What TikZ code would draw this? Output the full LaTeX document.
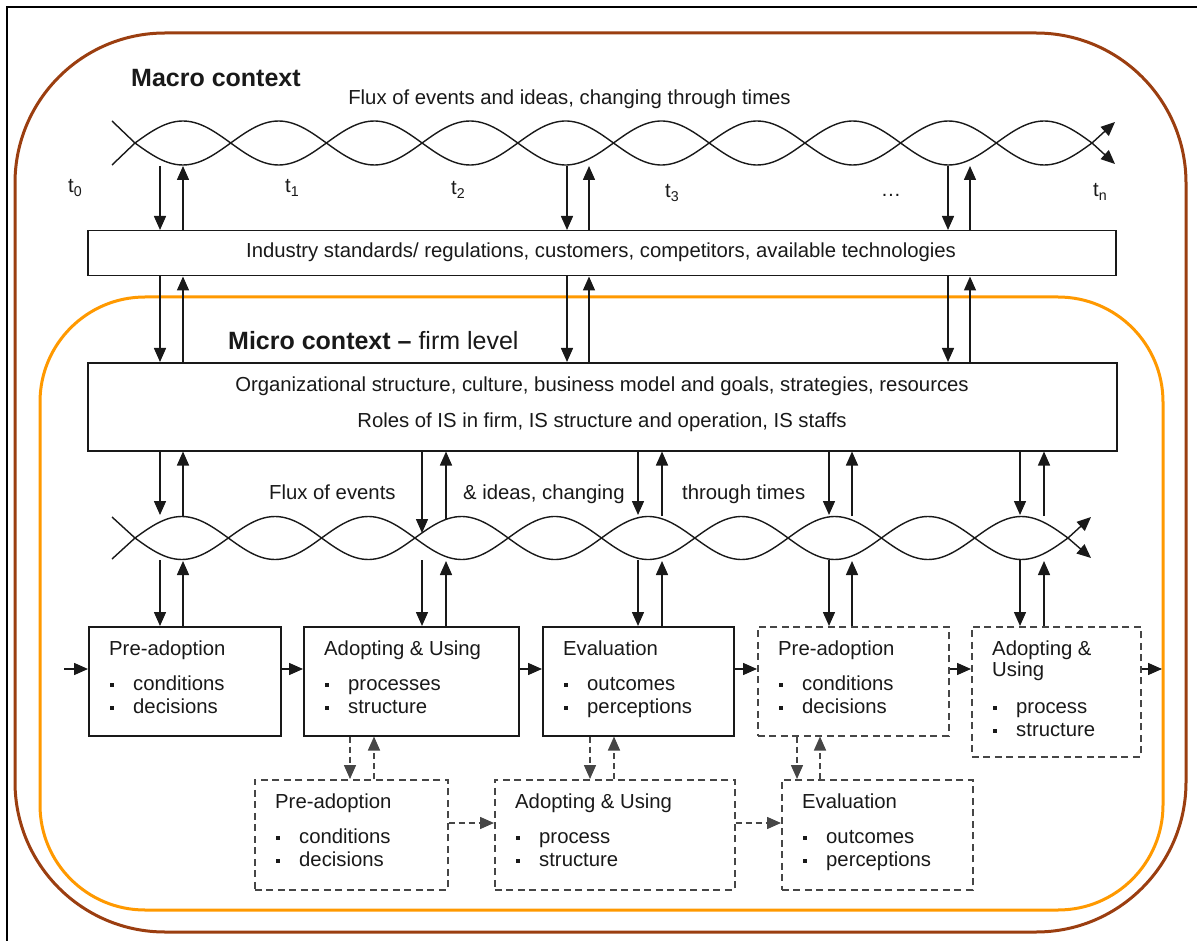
\documentclass[tikz,border=0pt]{standalone}
\usepackage{fontspec}
\setmainfont{Liberation Sans}
\usetikzlibrary{arrows.meta,calc}
\definecolor{macrobrown}{RGB}{155,62,16}
\definecolor{microorange}{RGB}{255,153,0}
\definecolor{ink}{RGB}{25,25,25}
\definecolor{dashgray}{RGB}{70,70,70}
% small square bullet followed by the item text
\newcommand\itembul{\makebox[23pt][l]{\rule[3.3pt]{3.6pt}{3.6pt}}}
% title and two bulleted items inside a stage box
\newcommand\stagetext[5]{%
  \node[txt] (#1-title) at ($(#1.north west)+(21,#3-35)$) {#2};
  \node[txt] (#1-one) at ($(#1.north west)+(22,#3)$) {\itembul #4};
  \node[txt] (#1-two) at ($(#1.north west)+(22,#3+23)$) {\itembul #5};}
\begin{document}
\begin{tikzpicture}[x=1pt,y=-1pt,
  txt/.style={inner sep=0pt, anchor=base west, text=ink, font=\fontsize{20.3}{24}\selectfont},
  ctxt/.style={txt, anchor=base},
  headtxt/.style={txt, font=\fontsize{25}{30}\selectfont\bfseries},
  macroframe/.style={draw=macrobrown, line width=3pt, rounded corners=150pt},
  microframe/.style={draw=microorange, line width=3pt, rounded corners=105pt},
  wave/.style={draw=ink, line width=1.4pt},
  tip/.style={-{Triangle[length=14pt,width=12pt]}},
  flow/.style={draw=ink, line width=1.5pt, tip},
  dflow/.style={draw=dashgray, line width=1.5pt, dash pattern=on 6pt off 4pt, tip},
  layerbox/.style={draw=ink, line width=1.5pt, fill=white, inner sep=0pt, anchor=north west},
  solidbox/.style={layerbox},
  dashbox/.style={layerbox, draw=dashgray, dash pattern=on 7pt off 4.5pt},
]
\useasboundingbox (0,0) rectangle (1197,941);
\fill[white] (0,0) rectangle (1197,941);

% page frame (left and top edges)
\draw[line width=2.5pt, black] (7,950) -- (7,7) -- (1205,7);

% context frames
\draw[macroframe] (15,33) rectangle (1186,932);
\draw[microframe] (40,297) rectangle (1163,910);

% macro level
\node[headtxt] (macro) at (131,87) {Macro context};
\node[ctxt] (fluxtop) at (569.5,105) {Flux of events and ideas, changing through times};

% intertwined flux of events (macro level)
\coordinate (twA0) at (112,121);
\coordinate (twB0) at (112,165);
\coordinate (twA1) at (1115,164);
\coordinate (twB1) at (1115,122);
\draw[wave, tip] (twA0) -- (135,143) -- plot[domain=135:1092, samples=260] (\x,{143+22*sin((\x-135)/95.7*180)}) -- (twA1);
\draw[wave, tip] (twB0) -- (135,143) -- plot[domain=135:1092, samples=260] (\x,{143-22*sin((\x-135)/95.7*180)}) -- (twB1);

\node[txt] (t0) at (68,193) {t\textsubscript{0}};
\node[txt] (t1) at (285,193) {t\textsubscript{1}};
\node[txt] (t2) at (451,195) {t\textsubscript{2}};
\node[txt] (t3) at (665,198) {t\textsubscript{3}};
\node[ctxt] (tdots) at (891,197) {\ldots};
\node[txt] (tn) at (1093,197) {t\textsubscript{n}};

\node[layerbox, minimum width=1028pt, minimum height=45pt] (box1) at (87,230) {};
\node[ctxt] (box1-text) at (601,258) {Industry standards/ regulations, customers, competitors, available technologies};

% micro level
\node[headtxt] (micro) at (228,349) {Micro context \textendash{} \mdseries firm level};

\node[layerbox, minimum width=1029pt, minimum height=88pt] (box2) at (87,362) {};
\node[ctxt] (box2-one) at (602,391) {Organizational structure, culture, business model and goals, strategies, resources};
\node[ctxt] (box2-two) at (602,427) {Roles of IS in firm, IS structure and operation, IS staffs};

\foreach \d/\u in {160/183, 567/589, 948/970}{
  \coordinate (tw-d\d) at (\d,166);
  \coordinate (tw-u\u) at (\u,166);
  \draw[flow] (tw-d\d) -- (\d,0 |- box1.north);
  \draw[flow] (\u,0 |- box1.north) -- (tw-u\u);
  \draw[flow] (\d,0 |- box1.south) -- (\d,0 |- box2.north);
  \draw[flow] (\u,0 |- box2.north) -- (\u,0 |- box1.south);
}

% intertwined flux of events (firm level)
\coordinate (lwA0) at (112,517);
\coordinate (lwB0) at (112,559);
\coordinate (lwA1) at (1091,558);
\coordinate (lwB1) at (1091,517);
\draw[wave, tip] (lwA0) -- (135,538) -- plot[domain=135:1068, samples=260] (\x,{538+21.5*sin((\x-135)/93.3*180)}) -- (lwA1);
\draw[wave, tip] (lwB0) -- (135,538) -- plot[domain=135:1068, samples=260] (\x,{538-21.5*sin((\x-135)/93.3*180)}) -- (lwB1);

\node[txt] (fluxlow1) at (269,499) {Flux of events};
\node[txt] (fluxlow2) at (463,499) {\& ideas, changing};
\node[txt] (fluxlow3) at (682,499) {through times};

% stages, first cycle and the start of the next one
\node[solidbox, minimum width=192pt, minimum height=109pt] (pa1) at (88,626) {};
\node[solidbox, minimum width=215pt, minimum height=109pt] (au1) at (303,626) {};
\node[solidbox, minimum width=191pt, minimum height=109pt] (ev1) at (542,626) {};
\node[dashbox, minimum width=191pt, minimum height=109pt] (pa2) at (757,626) {};
\node[dashbox, minimum width=169pt, minimum height=130pt] (au2) at (971,626) {};

\stagetext{pa1}{Pre-adoption}{64}{conditions}{decisions}
\stagetext{au1}{Adopting \& Using}{64}{processes}{structure}
\stagetext{ev1}{Evaluation}{64}{outcomes}{perceptions}
\stagetext{pa2}{Pre-adoption}{64}{conditions}{decisions}
\node[txt] (au2-title) at ($(au2.north west)+(21,29)$) {Adopting \&};
\node[txt] (au2-title2) at ($(au2.north west)+(21,50)$) {Using};
\node[txt] (au2-one) at ($(au2.north west)+(22,87)$) {\itembul process};
\node[txt] (au2-two) at ($(au2.north west)+(22,110)$) {\itembul structure};

% alternative stages
\node[dashbox, minimum width=193pt, minimum height=110pt] (pa3) at (254,779) {};
\node[dashbox, minimum width=240pt, minimum height=110pt] (au3) at (494,779) {};
\node[dashbox, minimum width=191pt, minimum height=110pt] (ev3) at (781,779) {};
\stagetext{pa3}{Pre-adoption}{64}{conditions}{decisions}
\stagetext{au3}{Adopting \& Using}{64}{process}{structure}
\stagetext{ev3}{Evaluation}{64}{outcomes}{perceptions}

% links between firm level, flux and stages
\foreach \d/\u/\ta/\tb/\bx in {160/183/515/516/pa1, 422/446/533/519/au1, 638/662/515/516/ev1, 829/852/515/516/pa2, 1020/1044/515/516/au2}{
  \coordinate (lw-a\d) at (\d,\ta);
  \coordinate (lw-b\u) at (\u,\tb);
  \coordinate (lw-c\d) at (\d,560);
  \coordinate (lw-e\u) at (\u,561);
  \draw[flow] (\d,0 |- box2.south) -- (lw-a\d);
  \draw[flow] (lw-b\u) -- (\u,0 |- box2.south);
  \draw[flow] (lw-c\d) -- (\d,0 |- \bx.north);
  \draw[flow] (\u,0 |- \bx.north) -- (lw-e\u);
}

% sequence of stages
\coordinate (entry) at (64,669);
\coordinate (exit) at (1162,669);
\draw[flow] (entry) -- (pa1.west |- 0,669);
\draw[flow] (pa1.east |- 0,669) -- (au1.west |- 0,669);
\draw[flow] (au1.east |- 0,669) -- (ev1.west |- 0,669);
\draw[flow] (ev1.east |- 0,669) -- (pa2.west |- 0,669);
\draw[flow] (pa2.east |- 0,669) -- (au2.west |- 0,669);
\draw[flow] (au2.east |- 0,669) -- (exit);

% links to alternative stages
\foreach \d/\u/\from/\to in {350/374/au1/pa3, 590/614/ev1/au3, 797/820/pa2/ev3}{
  \draw[dflow] (\d,0 |- \from.south) -- (\d,0 |- \to.north);
  \draw[dflow] (\u,0 |- \to.north) -- (\u,0 |- \from.south);
}
\draw[dflow] (pa3.east |- 0,823) -- (au3.west |- 0,823);
\draw[dflow] (au3.east |- 0,823) -- (ev3.west |- 0,823);
\end{tikzpicture}
\end{document}
